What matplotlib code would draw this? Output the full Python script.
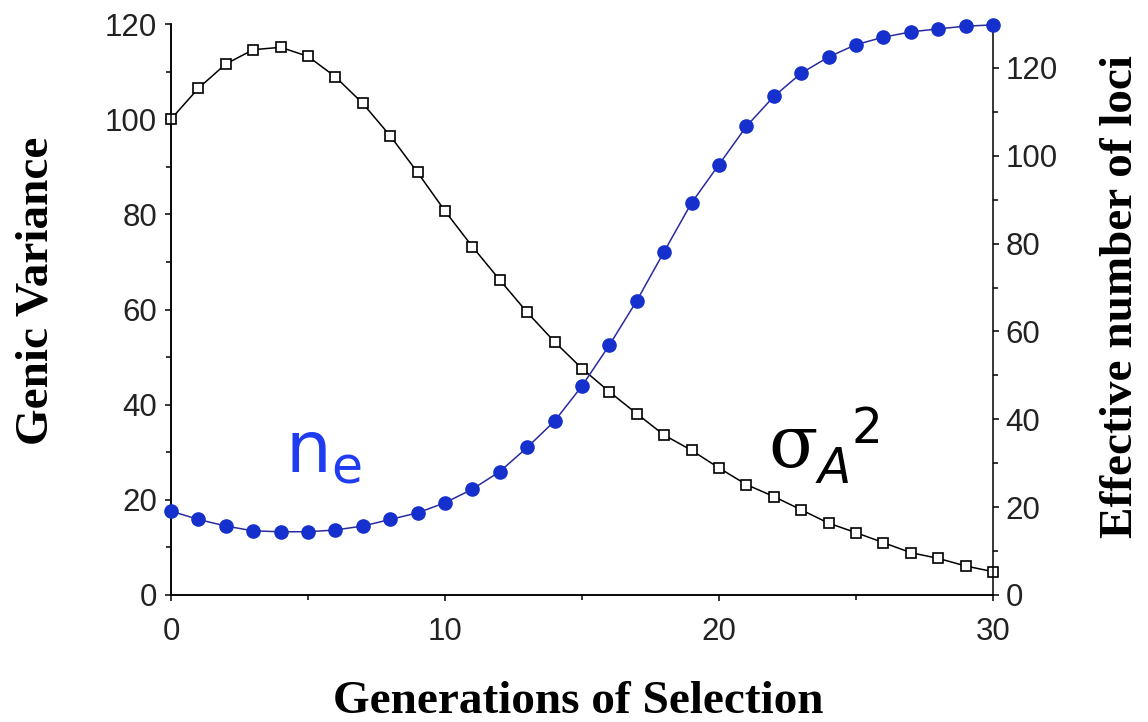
import matplotlib
matplotlib.use("Agg")
import matplotlib.pyplot as plt
from matplotlib import font_manager
from matplotlib.ticker import MultipleLocator, FixedLocator

generations = list(range(0, 31))
genic_variance = [100, 106.5, 111.6, 114.6, 115.1, 113.2, 108.9, 103.3, 96.5, 88.8,
                  80.7, 73.2, 66.2, 59.4, 53.2, 47.6, 42.7, 38.1, 33.6, 30.4,
                  26.7, 23.2, 20.7, 17.9, 15.1, 13.1, 11.0, 8.9, 7.7, 6.1, 4.9]
effective_loci = [19.1, 17.2, 15.7, 14.6, 14.4, 14.4, 14.8, 15.7, 17.2, 18.7,
                  21.0, 24.1, 28.1, 33.6, 39.6, 47.6, 56.9, 67.0, 78.2, 89.3,
                  98.0, 106.7, 113.5, 118.8, 122.5, 125.3, 127.0, 128.2, 128.9, 129.5, 129.8]

left_ticks = [0, 20, 40, 60, 80, 100, 120]
right_ticks = [0, 20, 40, 60, 80, 100, 120]
x_ticks = [0, 10, 20, 30]

# pick a narrow sans for the tick numbers if there is one
names = {f.name for f in font_manager.fontManager.ttflist}
if "Liberation Sans Narrow" in names:
    tick_font, tick_size = "Liberation Sans Narrow", 26
else:
    tick_font, tick_size = "Liberation Sans", 22.5

plt.rcParams["mathtext.fontset"] = "dejavusans"

W, H = 1148, 722
fig = plt.figure(figsize=(W / 100, H / 100), dpi=100)
ax = fig.add_axes([171 / W, 1 - 595 / H, 822 / W, 571 / H])
ax2 = ax.twinx()

ax.plot(generations, genic_variance, color="black", lw=1.1, marker="s", ms=7.6,
        mfc="white", mec="black", mew=1.2, clip_on=False, zorder=3)
ax2.plot(generations, effective_loci, color="#2a2aa0", lw=1.1, marker="o", ms=9.5,
         mfc="#1530cc", mec="#1530cc", clip_on=False, zorder=3)

ax.set_xlim(0, 30)
ax.set_ylim(0, 120)
ax2.set_ylim(0, 130)

ax.set_xticks(x_ticks)
ax.xaxis.set_minor_locator(MultipleLocator(5))
ax.set_yticks(left_ticks)
ax.yaxis.set_minor_locator(MultipleLocator(10))
ax2.set_yticks(right_ticks)
ax2.yaxis.set_minor_locator(FixedLocator([10, 30, 50, 70, 90, 110]))

for a in (ax, ax2):
    a.spines["top"].set_visible(False)
    for s in a.spines.values():
        s.set_linewidth(1.1)
ax.spines["right"].set_visible(False)

ax.tick_params(axis="both", which="major", direction="out", length=4, width=1.1)
ax.tick_params(axis="both", which="minor", direction="out", length=3.5, width=1.1)
ax.tick_params(axis="y", pad=6)
ax.tick_params(axis="x", pad=12)
ax2.tick_params(axis="y", which="major", direction="out", length=4, width=1.1, pad=5)
ax2.tick_params(axis="y", which="minor", direction="out", length=3.5, width=1.1)

for lab in ax.get_xticklabels() + ax.get_yticklabels() + ax2.get_yticklabels():
    lab.set_fontfamily(tick_font)
    lab.set_fontsize(tick_size)
    lab.set_color("#222222")

label_font = dict(family="Liberation Serif", weight="bold", size=34)
fig.text(37 / W, 1 - 291 / H, "Genic Variance", rotation=90, ha="center", va="center", **label_font)
fig.text(1121 / W, 1 - 296 / H, "Effective number of loci", rotation=90, ha="center", va="center", **label_font)
fig.text(578 / W, 1 - 713 / H, "Generations of Selection", ha="center", va="baseline", **label_font)

# curve annotations
ax.text(4.16, 25.6, r"$\mathrm{n}_{\mathrm{e}}$", color="#1f3cf0", fontsize=52, va="baseline")
ax.text(21.82, 26.9, "σ", color="black", fontsize=52, family="DejaVu Serif", va="baseline")
ax.text(23.61, 23.5, "A", color="black", fontsize=35, family="DejaVu Sans", style="italic", va="baseline")
ax.text(24.82, 31.9, "2", color="black", fontsize=35, family="DejaVu Sans", va="baseline")

fig.savefig("out.png", dpi=100)
